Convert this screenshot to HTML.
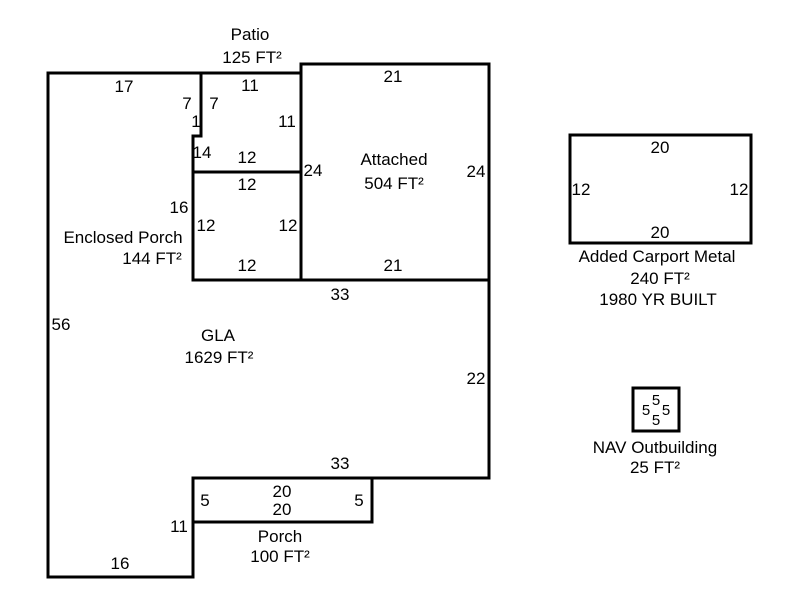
<!DOCTYPE html>
<html><head><meta charset="utf-8"><style>
html,body{margin:0;padding:0;background:#fff;width:800px;height:600px;overflow:hidden}
svg text{font-family:"Liberation Sans",Arial,sans-serif;font-size:17px;fill:#000}
</style></head><body>
<svg width="800" height="600" viewBox="0 0 800 600" xmlns="http://www.w3.org/2000/svg">
<g fill="none" stroke="#000" stroke-width="3" stroke-linecap="square">
<path d="M48,73 L301,73 M301,64 L489,64 L489,478 L193,478 L193,577 L48,577 L48,73"/>
<path d="M201,73 L201,136 L193,136 L193,280"/>
<line x1="193" y1="172" x2="301" y2="172"/>
<line x1="301" y1="64" x2="301" y2="280"/>
<line x1="193" y1="280" x2="489" y2="280"/>
<rect x="193" y="478" width="179" height="44"/>
<rect x="570" y="135" width="181" height="108"/>
<rect x="633" y="388" width="46" height="43"/>
</g>
<g text-anchor="middle">
<text x="250" y="40">Patio</text>
<text x="252" y="63">125 FT²</text>
<text x="124" y="92">17</text>
<text x="187" y="109">7</text>
<text x="214" y="109">7</text>
<text x="250" y="91">11</text>
<text x="196" y="127">1</text>
<text x="287" y="127">11</text>
<text x="202" y="158">14</text>
<text x="247" y="163">12</text>
<text x="247" y="190">12</text>
<text x="313" y="176">24</text>
<text x="393" y="82">21</text>
<text x="394" y="165">Attached</text>
<text x="394" y="189">504 FT²</text>
<text x="476" y="177">24</text>
<text x="179" y="213">16</text>
<text x="206" y="231">12</text>
<text x="288" y="231">12</text>
<text x="123" y="243">Enclosed Porch</text>
<text x="152" y="264">144 FT²</text>
<text x="247" y="271">12</text>
<text x="393" y="271">21</text>
<text x="340" y="300">33</text>
<text x="61" y="330">56</text>
<text x="218" y="341">GLA</text>
<text x="219" y="363">1629 FT²</text>
<text x="476" y="384">22</text>
<text x="340" y="469">33</text>
<text x="205" y="506">5</text>
<text x="282" y="497">20</text>
<text x="282" y="515">20</text>
<text x="359" y="506">5</text>
<text x="179" y="532">11</text>
<text x="280" y="542">Porch</text>
<text x="280" y="562">100 FT²</text>
<text x="120" y="569">16</text>
<text x="660" y="153">20</text>
<text x="581" y="195">12</text>
<text x="739" y="195">12</text>
<text x="660" y="238">20</text>
<text x="657" y="262">Added Carport Metal</text>
<text x="660" y="284">240 FT²</text>
<text x="658" y="305">1980 YR BUILT</text>
<text x="656" y="405" style="font-size:15px">5</text>
<text x="646" y="415" style="font-size:15px">5</text>
<text x="666" y="415" style="font-size:15px">5</text>
<text x="656" y="425" style="font-size:15px">5</text>
<text x="655" y="453">NAV Outbuilding</text>
<text x="655" y="473">25 FT²</text>
</g>
</svg>
</body></html>
